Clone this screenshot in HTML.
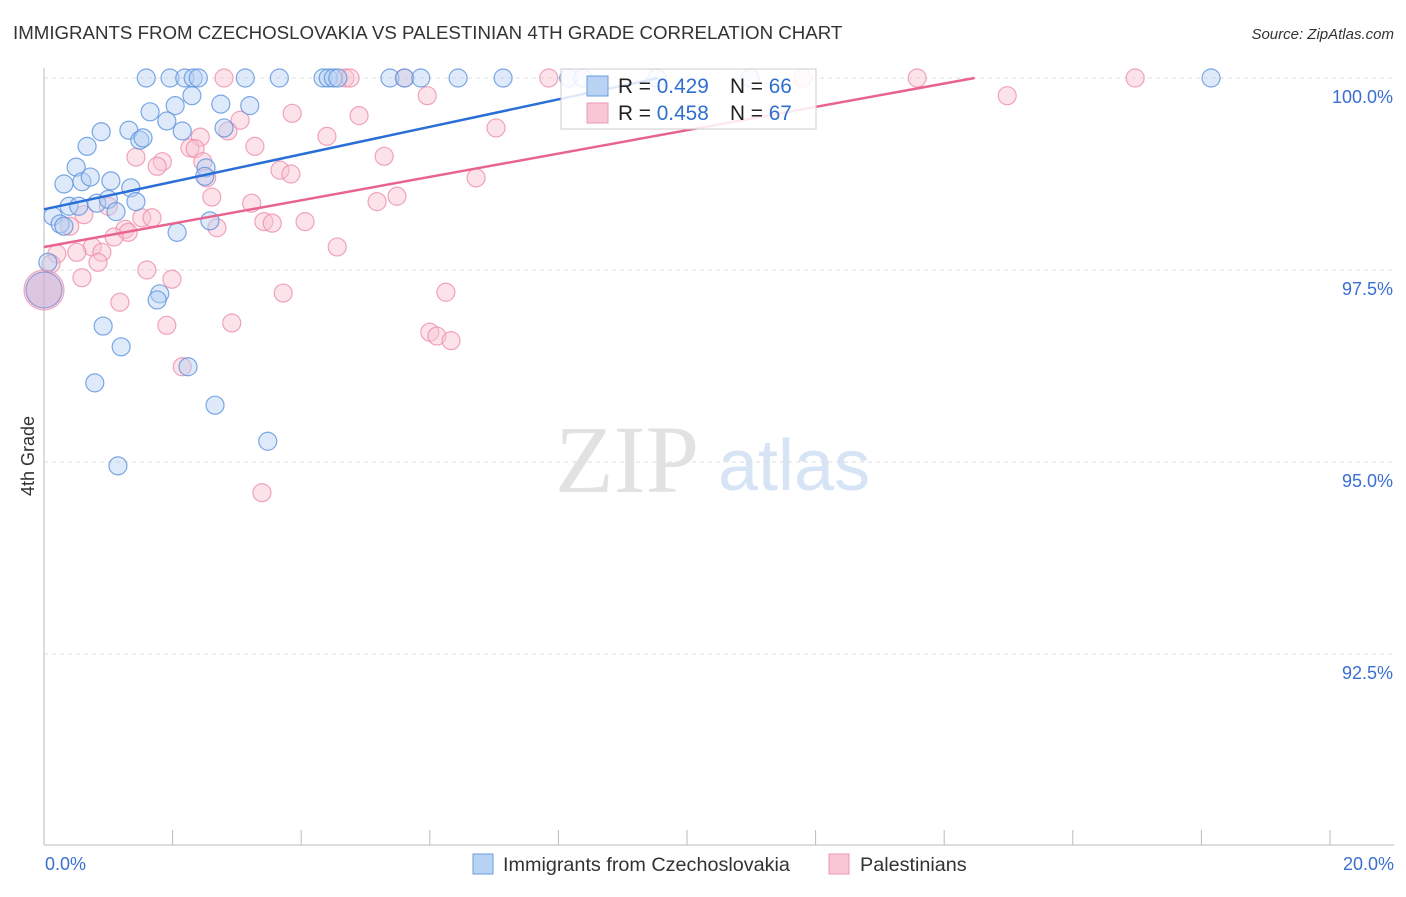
<!DOCTYPE html>
<html><head><meta charset="utf-8"><style>
body{margin:0;background:#fff;font-family:"Liberation Sans",sans-serif;}
svg text{font-family:"Liberation Sans",sans-serif;}
</style></head><body>
<svg id="chart" width="1406" height="892" xmlns="http://www.w3.org/2000/svg">
<text x="13" y="39" font-size="18.7" fill="#333">IMMIGRANTS FROM CZECHOSLOVAKIA VS PALESTINIAN 4TH GRADE CORRELATION CHART</text>
<text x="1394" y="39" font-size="15" fill="#333" font-style="italic" text-anchor="end">Source: ZipAtlas.com</text>
<g>
<text x="555" y="492" font-size="96" fill="#e2e2e2" font-family="Liberation Serif,serif" style="font-family:'Liberation Serif',serif">ZIP</text>
<text x="718" y="490" font-size="72" fill="#d6e4f5">atlas</text>
</g>
<g id="grid"></g>
<g id="axes"></g>
<g id="pts"></g>
<g id="trend"></g>
<g>
<rect x="561" y="69" width="255" height="60" fill="#fff" fill-opacity="0.85" stroke="#ccc"/>
<rect x="587" y="76" width="21" height="20" fill="#b9d3f4" stroke="#6a9ee0"/>
<rect x="587" y="103" width="21" height="20" fill="#f9c6d5" stroke="#ec9ab4"/>
<text x="618" y="93" font-size="20.8" fill="#222">R = <tspan fill="#2f6fd0">0.429</tspan></text>
<text x="730" y="93" font-size="20.8" fill="#222">N = <tspan fill="#2f6fd0">66</tspan></text>
<text x="618" y="120" font-size="20.8" fill="#222">R = <tspan fill="#2f6fd0">0.458</tspan></text>
<text x="730" y="120" font-size="20.8" fill="#222">N = <tspan fill="#2f6fd0">67</tspan></text>
</g>
<text transform="translate(34,456) rotate(-90)" font-size="18" fill="#333" text-anchor="middle">4th Grade</text>
<g>
<rect x="473" y="854" width="20" height="20" fill="#b9d3f4" stroke="#6a9ee0"/>
<text x="503" y="871" font-size="19.8" fill="#333">Immigrants from Czechoslovakia</text>
<rect x="829" y="854" width="20" height="20" fill="#f9c6d5" stroke="#ec9ab4"/>
<text x="860" y="871" font-size="19.8" fill="#333">Palestinians</text>
</g>
</svg>
<script>
const yTicks=[100,97.5,95,92.5];
const yTickLabels=["100.0%","97.5%","95.0%","92.5%"];
const xTickLabels=["0.0%","20.0%"];
const blueX=[1.59,1.96,2.19,2.32,2.40,3.13,3.66,4.34,4.42,4.50,4.57,5.38,5.61,5.86,6.44,7.14,8.16,8.38,9.53,10.98,18.15,
2.30,1.65,2.04,2.75,3.20,1.91,2.80,2.15,0.89,1.32,1.49,1.54,0.67,0.50,2.52,0.31,0.59,0.72,1.04,1.35,2.50,0.39,0.54,0.82,1.00,1.12,1.43,0.14,0.25,0.31,2.58,2.07,0.06,1.80,1.76,0.92,1.20,0.79,2.24,2.66,3.48,1.15];
const blueY=[100,100,100,100,100,100,100,100,100,100,100,100,100,100,100,100,100,100,100,100,100,
99.77,99.56,99.64,99.66,99.64,99.44,99.35,99.31,99.30,99.32,99.19,99.22,99.11,98.84,98.83,98.62,98.65,98.71,98.66,98.57,98.72,98.33,98.33,98.37,98.42,98.26,98.39,98.20,98.10,98.07,98.14,97.99,97.60,97.19,97.11,96.77,96.50,96.03,96.24,95.74,95.27,94.95];
const pinkX=[2.80,4.68,4.76,5.60,7.85,11.80,13.58,16.97,14.98,5.96,3.86,4.90,3.05,4.40,7.03,2.43,2.86,3.28,2.27,2.35,1.43,1.84,1.76,5.29,2.47,3.67,3.84,6.72,2.53,2.61,5.49,5.18,3.23,1.00,0.40,0.62,1.52,1.68,3.42,3.55,4.06,2.69,1.26,1.31,1.09,4.56,0.75,0.51,0.90,0.84,0.20,1.60,1.99,0.59,0.11,1.18,3.72,1.91,2.92,6.25,6.00,6.11,6.33,2.15,3.39];
const pinkY=[100,100,100,100,100,100,100,100,99.77,99.77,99.54,99.51,99.45,99.24,99.35,99.23,99.31,99.11,99.09,99.08,98.97,98.91,98.85,98.98,98.91,98.80,98.75,98.70,98.70,98.45,98.46,98.39,98.37,98.33,98.07,98.22,98.18,98.18,98.13,98.11,98.13,98.05,98.03,97.99,97.93,97.80,97.80,97.73,97.73,97.60,97.71,97.50,97.38,97.40,97.58,97.08,97.20,96.78,96.81,97.21,96.69,96.64,96.58,96.24,94.60];
const bigX=[0,0];
const bigY=[97.24,97.24];
const blueTrend=[98.29,0.179];
const pinkTrend=[97.80,0.152];

const X0=44,X1=1330,YT=78,PX=192/2.5;
const sx=v=>X0+(v/20)*(X1-X0);
const sy=v=>YT+(100-v)*PX;
const NS="http://www.w3.org/2000/svg";
function mk(tag,attrs,parent){const e=document.createElementNS(NS,tag);for(const k in attrs)e.setAttribute(k,attrs[k]);parent.appendChild(e);return e;}
const grid=document.getElementById('grid'),axes=document.getElementById('axes'),pts=document.getElementById('pts'),trend=document.getElementById('trend');
yTicks.forEach((t,i)=>{
 const l=mk('line',{x1:X0,x2:1394,y1:sy(t),y2:sy(t),stroke:'#ddd','stroke-dasharray':'4,4'},grid);
 
 
 const tx=mk('text',{x:1393,y:sy(t)+25,'font-size':18,fill:'#3a6fd0','text-anchor':'end'},axes);
 tx.textContent=yTickLabels[i];
 
 
});
const ax=mk('line',{x1:X0,x2:1394,y1:845,y2:845,stroke:'#bbb'},axes);


const ay=mk('line',{x1:X0,x2:X0,y1:68,y2:845,stroke:'#bbb'},axes);


for(let i=0;i<=10;i++){
 const t=mk('line',{x1:sx(i*2),x2:sx(i*2),y1:830,y2:845,stroke:'#bbb'},axes);
 
 
}
[[0,"start",45],[20,"end",1394]].forEach((d,i)=>{
 const tx=mk('text',{x:d[2],y:870,'font-size':18,fill:'#3a6fd0','text-anchor':d[1]},axes);
 tx.textContent=xTickLabels[i];
 
 
});
function dots(xs,ys,fill,stroke,name,r){
 xs.forEach((x,i)=>{
  const c=mk('circle',{cx:sx(x),cy:sy(ys[i]),r:r,fill:fill,'fill-opacity':0.45,stroke:stroke,'stroke-opacity':0.8,'stroke-width':1.2},pts);
  
  
 });
}
dots(pinkX,pinkY,'#f9c0d0','#ec8fab','palestinian-point',9);
dots(blueX,blueY,'#b5d0f3','#5b92dd','czech-point',9);
dots([bigX[0]],[bigY[0]],'#f2b8cc','#e895b0','palestinian-point-large',20);
dots([bigX[1]],[bigY[1]],'#b9a9d6','#7f8fd6','czech-point-large',18);
function tl(p,color,name){
 const xe=Math.min(20,(100-p[0])/p[1]);
 const l=mk('line',{x1:sx(0),y1:sy(p[0]),x2:sx(xe),y2:sy(p[0]+p[1]*xe),stroke:color,'stroke-width':2.5},trend);
 
 
}
tl(blueTrend,'#2a6fd6','czech-trend-line');
tl(pinkTrend,'#e8648f','palestinian-trend-line');
</script>
</body></html>
